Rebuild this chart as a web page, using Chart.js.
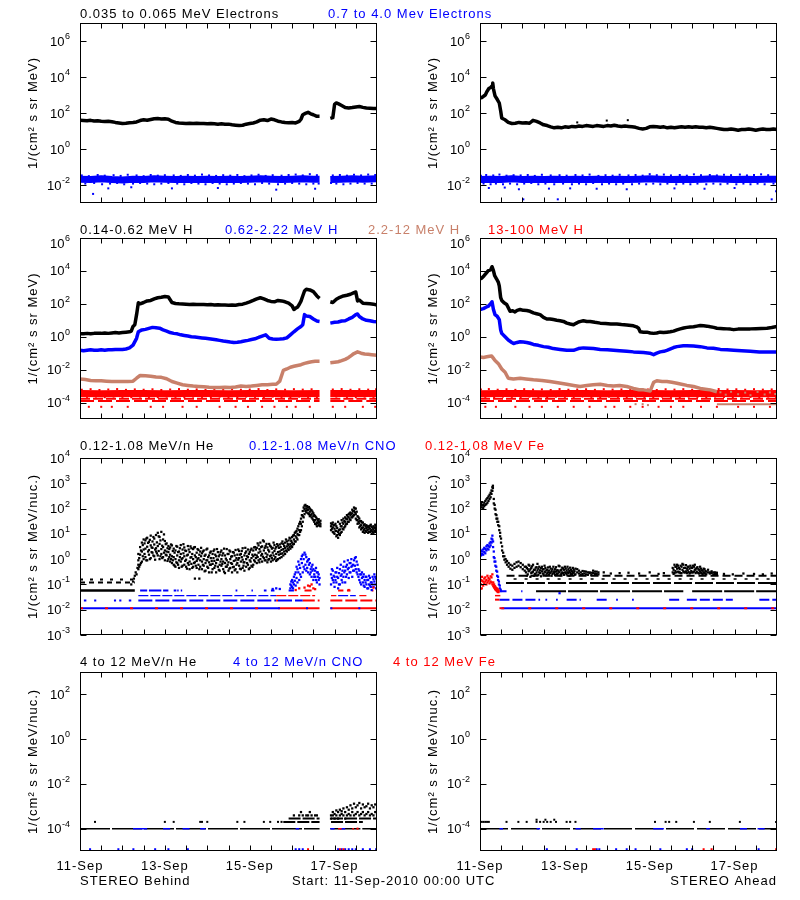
<!DOCTYPE html>
<html><head><meta charset="utf-8">
<script src="https://cdn.jsdelivr.net/npm/chart.js@4.4.1/dist/chart.umd.min.js"></script>
<style>
html,body{margin:0;padding:0;background:#fff;}
#wrap{position:relative;width:800px;height:900px;overflow:hidden;background:#fff;}
#wrap canvas{position:absolute;left:0;top:0;}
</style></head><body><div id="wrap"></div>
<script>
// ================= axes =================
const hourRange = [0, 168];              // 11-Sep-2010 00:00 .. 18-Sep-2010 00:00
const xTickHours = [12,24,36,48,60,72,84,96,108,120,132,144,156];
const dayLabelHours = [0,48,96,144];
const dayLabels = ['11-Sep','13-Sep','15-Sep','17-Sep'];
const row1Range = [1e-3, 1e7], row1Ticks = [1e-2,1e0,1e2,1e4,1e6];
const row2Range = [1e-5, 1e6], row2Ticks = [1e-4,1e-2,1e0,1e2,1e4,1e6];
const row3Range = [1e-3, 1e4], row3Ticks = [1e-3,1e-2,1e-1,1e0,1e1,1e2,1e3,1e4];
const row4Range = [1e-5, 1e3], row4Ticks = [1e-4,1e-2,1e0,1e2];

// ================= row 1 : electrons =================
const behindEleLow = [[0,39],[2,38],[4,37],[6,39],[8,36],[10,37],[12,35],[14,34],[16,35],[18,33],[20,30],[22,28],[24,26],[26,27],[28,29],[30,30],[32,32],[34,38],[36,42],[38,40],[40,44],[42,48],[44,49],[46,47],[48,48],[50,45],[52,35],[54,30],[56,28],[58,27],[60,26],[62,27],[64,26],[66,27],[68,26],[70,26],[72,25],[74,26],[76,25],[78,24],[80,25],[82,24],[84,24],[86,22],[88,21],[90,20],[92,21],[94,24],[96,26],[98,28],[100,32],[102,40],[104,42],[106,38],[108,46],[110,42],[112,35],[114,32],[116,30],[118,29],[120,30],[122,28],[124,34],[125,45],[126,80],[127.5,95],[129,110],[130.5,90],[132,80],[134,65],[135.5,65],[138,null],[141.6,50],[143,55],[144,300],[145,360],[146,330],[148,260],[150,200],[152,190],[154,200],[156,215],[158,230],[160,205],[162,190],[164,185],[166,180],[168,175]];
const behindEleHigh = [[0,0.021],[6,0.02],[12,0.022],[18,0.02],[24,0.019],[30,0.021],[36,0.02],[42,0.022],[48,0.021],[54,0.02],[60,0.021],[66,0.02],[72,0.021],[78,0.02],[84,0.021],[90,0.02],[96,0.021],[102,0.022],[108,0.021],[114,0.02],[120,0.021],[126,0.022],[132,0.021],[135.5,0.021],[138,null],[141.6,0.02],[148,0.021],[154,0.022],[160,0.021],[168,0.022]];
const behindEleHighScatter = [[1,0.034],[3,0.012],[5,0.031],[7.4,0.0032],[8,0.013],[10,0.036],[12.5,0.011],[14,0.033],[16,0.0065],[17,0.012],[19,0.035],[21,0.013],[23,0.032],[25,0.011],[27,0.037],[29,0.0075],[30,0.012],[32,0.034],[34,0.013],[36,0.031],[38,0.012],[40,0.036],[42,0.011],[44,0.033],[46,0.012],[48,0.035],[50,0.013],[52,0.0065],[53,0.034],[55,0.012],[57,0.032],[59,0.011],[61,0.036],[63,0.013],[65,0.033],[67,0.012],[69,0.038],[71,0.011],[73,0.034],[75,0.013],[77,0.032],[78,0.0068],[79,0.012],[81,0.035],[83,0.011],[85,0.033],[87,0.012],[89,0.036],[91,0.013],[93,0.031],[95,0.012],[97,0.034],[99,0.011],[101,0.037],[103,0.013],[105,0.032],[107,0.012],[109,0.035],[111,0.0055],[112,0.011],[114,0.033],[116,0.012],[118,0.036],[120,0.013],[122,0.038],[124,0.012],[126,0.034],[128,0.011],[130,0.04],[132,0.012],[133,0.0062],[134,0.035],[135,0.012],[142,0.013],[143,0.034],[145,0.012],[147,0.036],[149,0.011],[151,0.033],[153,0.012],[155,0.037],[157,0.013],[159,0.034],[161,0.012],[163,0.038],[165,0.012],[167,0.036]];

const aheadEleLow = [[0,780],[1,700],[2,850],[3,1000],[4,1600],[5,2300],[6,2600],[6.8,3200],[7.2,4600],[7.6,2200],[8.5,900],[9.8,560],[10.9,360],[11.7,130],[12.3,53],[13,48],[14.2,42],[16,30],[18,26],[20,27],[22,30],[24,28],[26,29],[28,27],[30,39],[32,34],[34,28],[36,22],[38,20],[40,17],[42,15],[44,16],[46,15],[48,17],[50,16],[52,18],[54,17],[56,19],[58,18],[60,20],[62,19],[64,18],[66,20],[68,19],[70,18],[72,20],[74,19],[76,21],[78,19],[80,18],[82,19],[84,18],[86,17],[88,16],[90,14],[92,13],[94,14],[96,17],[98,18],[100,17],[102,16],[104,17],[106,15],[108,16],[110,15],[112,16],[114,17],[116,16],[118,17],[120,16],[122,17],[124,16],[126,16],[128,15],[130,16],[132,15],[134,14],[136,13],[138,12],[140,12],[142,13],[144,12],[146,11],[148,12],[150,12],[152,13],[154,12],[156,11],[158,12],[160,13],[162,12],[164,12],[166,13],[168,12]];
const aheadEleLowOutliers = [[55,30],[71.7,38],[83.6,40]];
const aheadEleHigh = [[0,0.02],[6,0.021],[12,0.02],[18,0.022],[24,0.02],[30,0.021],[36,0.02],[42,0.021],[48,0.02],[54,0.021],[60,0.02],[66,0.021],[72,0.02],[78,0.021],[84,0.02],[90,0.021],[96,0.022],[102,0.021],[108,0.02],[114,0.021],[120,0.02],[126,0.021],[132,0.022],[138,0.021],[144,0.02],[150,0.021],[156,0.02],[162,0.021],[168,0.021]];
const aheadEleHighScatter = [[0.5,0.033],[2,0.012],[3.5,0.036],[5,0.0068],[6,0.011],[7.5,0.034],[9,0.012],[11,0.038],[13,0.011],[14,0.0072],[15,0.033],[17,0.012],[19,0.035],[21,0.011],[22,0.0058],[23,0.034],[24.5,0.0016],[25,0.012],[27,0.036],[29,0.013],[31,0.032],[33,0.011],[35,0.037],[37,0.012],[39,0.0063],[40,0.034],[42,0.011],[44,0.0016],[45,0.035],[47,0.012],[49,0.033],[51,0.0065],[52,0.011],[54,0.036],[56,0.012],[58,0.034],[60,0.011],[62,0.038],[64,0.013],[66,0.0062],[67,0.032],[69,0.011],[71,0.035],[73,0.012],[75,0.033],[77,0.011],[79,0.037],[81,0.012],[83,0.0058],[84,0.034],[86,0.011],[88,0.036],[90,0.012],[92,0.033],[94,0.011],[96,0.04],[98,0.012],[100,0.035],[102,0.011],[104,0.038],[106,0.012],[108,0.034],[110,0.0065],[111,0.011],[113,0.036],[115,0.012],[117,0.033],[119,0.011],[121,0.039],[123,0.012],[125,0.035],[127,0.0062],[128,0.011],[130,0.036],[132,0.012],[134,0.034],[136,0.011],[138,0.037],[140,0.012],[142,0.035],[144,0.0068],[145,0.011],[147,0.038],[149,0.012],[151,0.034],[153,0.011],[155,0.036],[157,0.012],[159,0.039],[161,0.011],[163,0.035],[165,0.0016],[166,0.012],[167.5,0.0045]];

// ================= row 2 : protons =================
const behindH1 = [[0,1.5],[2,1.5],[4,1.6],[6,1.5],[8,1.6],[10,1.6],[12,1.6],[14,1.7],[16,1.6],[18,1.7],[20,1.8],[22,1.7],[24,1.8],[26,1.9],[28,2.0],[29,2.2],[30,4.2],[31,5.3],[32,22],[33,115],[34,100],[36,120],[38,150],[40,160],[42,200],[44,235],[46,250],[48,280],[50,260],[52,120],[54,105],[56,100],[58,98],[60,95],[62,92],[64,95],[66,90],[68,91],[70,90],[72,88],[74,91],[76,86],[78,88],[80,85],[82,84],[84,83],[86,85],[88,83],[90,90],[92,95],[94,110],[96,130],[98,160],[100,200],[102,235],[104,200],[106,160],[108,140],[110,133],[112,160],[114,150],[116,133],[118,110],[120,75],[121,45],[122,55],[123,62],[124,90],[125,146],[126,300],[127,600],[128,760],[130,700],[132,550],[134,300],[135.5,215],[138,null],[141.6,133],[143,120],[145,190],[147,250],[149,300],[151,330],[153,380],[155,480],[156,520],[157,150],[158,170],[160,110],[162,105],[164,100],[166,95],[168,83]];
const behindH2 = [[0,0.15],[2,0.14],[4,0.15],[6,0.16],[8,0.15],[10,0.15],[12,0.16],[14,0.15],[16,0.16],[18,0.16],[20,0.17],[22,0.17],[24,0.17],[26,0.18],[28,0.21],[30,0.31],[32,0.8],[33,2.0],[35,2.6],[37,2.8],[39,3.2],[41,3.7],[43,3.5],[45,3.3],[47,2.6],[49,2.2],[51,1.8],[53,1.6],[55,1.5],[57,1.3],[59,1.2],[61,1.1],[63,1.0],[65,0.95],[67,0.9],[69,0.85],[71,0.8],[73,0.75],[75,0.7],[77,0.65],[79,0.6],[81,0.55],[83,0.52],[85,0.48],[87,0.45],[89,0.46],[91,0.5],[93,0.55],[95,0.6],[97,0.68],[99,0.75],[101,0.9],[103,1.1],[105,1.3],[107,0.8],[109,0.72],[111,0.7],[113,0.72],[115,0.75],[117,0.85],[119,1.3],[121,2.0],[123,3.0],[125,4.2],[126,5.3],[127,22],[128,18],[130,17],[132,12],[134,9],[135.5,8.5],[138,null],[141.6,6.7],[144,7.5],[146,7.8],[148,9],[150,9.4],[152,12],[154,15],[156,22],[157,24],[158,17],[160,12],[162,10],[164,9.4],[166,8.5],[168,8]];
const behindH3 = [[0,0.0027],[3,0.0025],[6,0.0022],[9,0.0021],[12,0.0021],[15,0.002],[18,0.0019],[21,0.0019],[24,0.0019],[27,0.0019],[30,0.002],[32,0.003],[34,0.0044],[37,0.0042],[40,0.004],[43,0.0036],[46,0.0034],[49,0.0028],[52,0.0019],[55,0.0015],[58,0.0012],[61,0.0011],[64,0.001],[67,0.00095],[70,0.0009],[73,0.00085],[76,0.00083],[79,0.00083],[82,0.00085],[85,0.00083],[88,0.00088],[91,0.001],[94,0.00095],[97,0.001],[100,0.0011],[103,0.0012],[106,0.0012],[109,0.0013],[111,0.0013],[113,0.002],[115,0.0089],[117,0.011],[119,0.014],[121,0.016],[123,0.018],[125,0.02],[127,0.024],[129,0.027],[131,0.03],[133,0.032],[135.5,0.032],[138,null],[141.6,0.026],[144,0.028],[146,0.03],[148,0.035],[150,0.042],[152,0.055],[154,0.08],[155,0.095],[157,0.12],[159,0.1],[161,0.09],[163,0.085],[165,0.08],[168,0.074]];
const behindH4Band = [[0,3.5e-4],[12,3.4e-4],[24,3.6e-4],[36,3.5e-4],[48,3.4e-4],[60,3.5e-4],[72,3.6e-4],[84,3.4e-4],[96,3.5e-4],[108,3.5e-4],[120,3.4e-4],[135.5,3.5e-4],[138,null],[141.6,3.6e-4],[155,3.5e-4],[168,3.6e-4]];
const behindH4Scatter = [[1,6e-4],[4,2.2e-4],[6,6.5e-4],[9,2.3e-4],[11,5.8e-4],[14,2.1e-4],[16,6.2e-4],[19,2.3e-4],[21,6.6e-4],[24,2.2e-4],[26,5.9e-4],[29,2.1e-4],[31,6.3e-4],[34,2.3e-4],[36,6e-4],[39,2.2e-4],[41,6.4e-4],[44,2.1e-4],[46,5.8e-4],[49,2.3e-4],[51,6.2e-4],[54,2.2e-4],[56,6.6e-4],[59,2.1e-4],[61,6e-4],[64,2.3e-4],[66,6.3e-4],[69,2.2e-4],[71,5.9e-4],[74,2.1e-4],[76,6.5e-4],[79,2.3e-4],[81,6.1e-4],[84,2.2e-4],[86,6.4e-4],[89,2.1e-4],[91,6e-4],[94,2.3e-4],[96,6.2e-4],[99,2.2e-4],[101,6.6e-4],[104,2.1e-4],[106,5.8e-4],[109,2.3e-4],[111,6.3e-4],[114,2.2e-4],[116,6e-4],[119,2.1e-4],[121,6.5e-4],[124,2.3e-4],[126,6.1e-4],[129,2.2e-4],[131,6.4e-4],[134,2.1e-4],[143,6.2e-4],[145,2.3e-4],[148,6.6e-4],[151,2.2e-4],[153,6e-4],[156,2.1e-4],[158,6.4e-4],[161,2.3e-4],[163,6.1e-4],[166,2.2e-4],[167.5,6.5e-4]];
const behindH4Levels = [[0,135.5,1.7e-4],[141.6,168,1.7e-4]];
const behindH4Levels2 = [[0,135.5,1.25e-4],[141.6,168,1.25e-4]];
const behindH4LowHours = [5,12,18,27,40,47,58,66,79,88,95,103,110,117,122,130,143,150,160,167];
const h4LowLevel = 5.5e-5;

const aheadH1 = [[0,3200],[0.9,3600],[2.3,5100],[3.4,7100],[4.7,10500],[6,11500],[6.8,18000],[7.6,10500],[8.3,5100],[9.4,3200],[10.4,2000],[10.9,1230],[11.7,235],[12.3,160],[13.6,115],[15.1,91],[17,35],[18.5,38],[19.8,32],[21,40],[22.7,45],[24.5,40],[26.4,39],[28.3,35],[30.2,28],[32,25],[34,22],[35.9,15],[37.8,12],[39.6,12],[41.5,11],[43.4,10],[45.3,9.4],[47.2,8.5],[49.1,6.7],[51,5.9],[52.9,5.3],[54.3,6.5],[55.7,7.8],[57,8.5],[58.5,9.4],[60.4,8.5],[62.3,8.5],[65,7.5],[68,6.7],[71,6.3],[74,6.0],[77.4,5.9],[80,5.5],[83,5.2],[86.8,4.6],[88.5,4.0],[89.7,3.3],[90.6,2.0],[92.5,1.9],[94.4,1.9],[96.3,1.7],[98.2,1.6],[100,1.7],[101.9,1.9],[103.8,1.8],[105.7,1.9],[107.6,2.0],[109.5,2.2],[111.4,2.6],[113.3,3.0],[115.2,3.4],[117,3.7],[118.9,3.9],[120.8,4.0],[122.7,4.4],[124.6,4.8],[126.5,4.6],[128.4,4.4],[130.3,4.0],[132.2,3.7],[134,3.3],[136,3.2],[137.8,3.1],[139.7,3.0],[141.6,2.9],[143.5,2.7],[146,2.9],[149,3.0],[152.9,3.0],[156,3.1],[159,3.2],[162.3,3.3],[165,3.6],[168,4.2]];
const aheadH2 = [[0,45],[1.9,51],[3.4,62],[4.7,72],[6,100],[6.8,133],[7.6,45],[8.5,22],[9.8,17],[10.9,11],[11.7,2.6],[12.3,1.6],[14.2,1.0],[16,0.63],[18,0.45],[19,0.39],[21,0.45],[22.7,0.5],[24.5,0.48],[26.4,0.45],[28.3,0.4],[30.2,0.34],[33,0.3],[35.9,0.25],[38.7,0.23],[41.5,0.19],[45.3,0.17],[49.1,0.15],[52.9,0.15],[55.7,0.19],[58.5,0.21],[61.5,0.2],[64.2,0.19],[68,0.17],[72,0.16],[75.5,0.15],[79,0.14],[83,0.13],[86.8,0.12],[92.5,0.11],[96,0.1],[98.2,0.081],[100,0.1],[101.9,0.12],[104,0.13],[105.7,0.15],[109.5,0.22],[111.4,0.25],[115,0.28],[117,0.28],[120.8,0.27],[124.6,0.25],[128.4,0.21],[132,0.2],[136,0.17],[139.7,0.16],[143.5,0.15],[148,0.14],[152.9,0.13],[158,0.12],[162.3,0.12],[168,0.12]];
const aheadH3 = [[0,0.059],[2,0.055],[3.8,0.06],[5.5,0.065],[6.6,0.068],[7.5,0.05],[8.5,0.036],[10.4,0.023],[12.3,0.011],[14.2,0.0069],[16,0.003],[18.9,0.0027],[22.7,0.003],[26,0.0027],[30.2,0.0024],[35,0.0022],[39.6,0.0019],[44,0.0016],[49.1,0.0013],[53,0.0011],[56.6,0.00095],[60.4,0.0011],[64,0.0012],[68,0.0013],[72,0.0011],[75.5,0.001],[79,0.0011],[83,0.00095],[86.8,0.00072],[90,0.0006],[92.5,0.00059],[96.3,0.00051],[98.2,0.0017],[100,0.0021],[103,0.0019],[105.7,0.0019],[108.5,0.0017],[111.4,0.0015],[114,0.0013],[117,0.0011],[120.8,0.00095],[124.6,0.00072],[127.5,0.00065],[130.3,0.00059],[134,0.00045]];
const aheadH3Floor = [[134,168,8e-5]];
const aheadH3Scatter = [[88,8e-5],[92,8e-5],[95,7e-5],[136,4.2e-4],[139,3e-4],[142,4.5e-4],[146,3.2e-4],[150,4e-4],[153,2.8e-4],[157,4.4e-4],[161,3.1e-4],[164,4.1e-4],[167,3.3e-4]];
const aheadH4Band = [[0,3.4e-4],[12,3.5e-4],[24,3.6e-4],[36,3.4e-4],[48,3.5e-4],[60,3.5e-4],[72,3.4e-4],[84,3.6e-4],[96,3.5e-4],[108,3.4e-4],[120,3.5e-4],[132,3.6e-4],[144,3.5e-4],[156,3.4e-4],[168,3.5e-4]];
const aheadH4Scatter = [[0.5,6.2e-4],[3,2.2e-4],[5,6.6e-4],[8,2.1e-4],[10,6e-4],[13,2.3e-4],[15,6.4e-4],[18,2.2e-4],[20,5.9e-4],[23,2.1e-4],[25,6.5e-4],[28,2.3e-4],[30,6.1e-4],[33,2.2e-4],[35,6.3e-4],[38,2.1e-4],[40,5.8e-4],[43,2.3e-4],[45,6.6e-4],[48,2.2e-4],[50,6e-4],[53,2.1e-4],[55,6.2e-4],[58,2.3e-4],[60,6.4e-4],[63,2.2e-4],[65,5.9e-4],[68,2.1e-4],[70,6.5e-4],[73,2.3e-4],[75,6.1e-4],[78,2.2e-4],[80,6.3e-4],[83,2.1e-4],[85,6e-4],[88,2.3e-4],[90,6.6e-4],[93,2.2e-4],[95,6.2e-4],[98,2.1e-4],[100,5.8e-4],[103,2.3e-4],[105,6.4e-4],[108,2.2e-4],[110,6.1e-4],[113,2.1e-4],[115,6.5e-4],[118,2.3e-4],[120,6e-4],[123,2.2e-4],[125,6.3e-4],[128,2.1e-4],[130,5.9e-4],[133,2.3e-4],[135,6.6e-4],[138,2.2e-4],[140,6.2e-4],[143,2.1e-4],[145,6.4e-4],[148,2.3e-4],[150,6e-4],[153,2.2e-4],[155,6.5e-4],[158,2.1e-4],[160,6.1e-4],[163,2.3e-4],[165,6.3e-4],[167.5,2.2e-4]];
const aheadH4Levels = [[0,168,1.7e-4]];
const aheadH4Levels2 = [[0,168,1.25e-4]];
const aheadH4LowHours = [3,9,20,28,35,44,53,62,71,76,85,92,101,108,115,125,134,146,155,164];

// ================= row 3 : 0.12-1.08 MeV/n ions =================
const behindHeQuiet = [[0,31,0.057]];
const behindHeQuiet2 = [[0,31,0.12]];
const behindHeQuiet3 = [[0,31,0.155]];
const behindHeRise = [[29,0.1],[30,0.13],[30.5,0.17],[31,0.22],[31.5,0.3],[32,0.25],[32.5,0.45],[33,0.6],[65,0.17],[67.5,0.17]];
const behindHeCloud = [[33,0.4,0.9,1.6],[34,0.6,1.5,3.0],[35,0.8,2.0,4.5],[36,1.0,2.4,6.0],[37,1.2,2.6,5.5],[38,0.9,3.1,7.0],[39,1.5,2.3,4.8],[40,1.1,3.5,8.5],[41,1.8,2.8,5.0],[42,1.3,3.8,6.5],[43,2.0,2.7,9.0],[44,1.4,3.3,11],[45,1.0,4.0,7.5],[46,1.6,2.5,12],[47,1.2,3.0,6.0],[48,0.9,2.2,5.2],[49,1.4,2.0,4.2],[50,1.0,1.9,3.3],[51,0.8,1.5,2.9],[52,0.7,1.3,3.5],[53,0.6,1.2,2.6],[54,0.5,1.0,2.2],[55,0.7,1.4,3.1],[56,0.45,0.9,2.0],[57,0.8,1.6,3.6],[58,0.55,1.1,2.4],[59,0.6,1.3,2.9],[60,0.5,0.95,2.1],[61,0.7,1.5,3.3],[62,0.4,0.8,1.9],[63,0.65,1.2,2.7],[64,0.5,1.0,2.5],[65,0.75,1.4,3.0],[66,0.45,0.85,1.8],[67,0.6,1.1,2.3],[68,0.5,0.9,2.0],[69,0.4,0.8,1.7],[70,0.55,1.0,2.2],[71,0.35,0.7,1.5],[72,0.5,0.9,2.6],[73,0.3,0.75,1.4],[74,0.6,1.1,2.0],[75,0.4,0.65,1.6],[76,0.45,0.85,2.4],[77,0.3,0.7,1.3],[78,0.5,0.95,1.9],[79,0.35,0.6,1.5],[80,0.55,1.0,2.2],[81,0.4,0.8,1.7],[82,0.28,0.7,1.4],[83,0.5,0.9,2.5],[84,0.35,0.75,1.6],[85,0.45,1.0,2.0],[86,0.3,0.65,1.3],[87,0.5,0.85,1.8],[88,0.4,0.9,2.3],[89,0.3,0.7,1.5],[90,0.55,1.1,2.1],[91,0.4,0.8,1.6],[92,0.45,0.95,2.7],[93,0.35,0.75,1.4],[94,0.5,1.0,2.0],[95,0.6,1.2,2.4],[96,0.45,0.9,1.9],[97,0.55,1.1,2.6],[98,0.6,1.3,2.2],[99,0.8,1.5,3.0],[100,0.7,1.4,2.8],[101,0.9,1.8,3.5],[102,1.0,2.0,4.5],[103,0.8,1.6,3.2],[104,1.1,2.2,5.0],[105,0.9,1.7,3.3],[106,0.75,1.5,2.9],[107,1.0,2.0,4.0],[108,0.8,1.4,3.1],[109,0.9,1.8,2.8],[110,1.0,2.1,3.6],[111,0.85,1.6,3.0],[112,1.0,1.9,3.4],[113,1.1,2.0,3.8],[114,1.2,2.3,4.2],[115,1.4,2.5,4.0],[116,1.6,2.8,4.5],[117,2.0,3.2,5.0],[118,2.3,3.6,5.5],[119,2.6,4.0,6.5],[120,3.0,4.5,7.5],[121,4.0,6.0,9.0],[122,5.0,8.0,12],[123,6.0,10,16],[124,9.0,14,25],[125,14,25,40],[126,30,50,80],[127,60,95,130],[128,70,100,120],[129,65,90,110],[130,50,75,100],[131,45,60,85],[132,35,50,65],[133,25,35,50],[134,20,28,40],[135,22,30,38],[136,20,25,33],[142,14,20,26],[143,12,18,28],[144,10,16,22],[145,8,13,20],[146,7,12,30],[147,9,15,25],[148,12,20,35],[149,15,25,40],[150,20,30,45],[151,25,38,55],[152,30,45,60],[153,35,55,70],[154,45,65,90],[155,55,80,110],[156,40,60,100],[157,25,35,50],[158,18,26,40],[159,15,22,32],[160,12,18,28],[161,11,16,24],[162,12,17,22],[163,11,15,20],[164,12,16,21],[165,10,14,19],[166,11,15,20],[167,12,17,23],[168,11,16,20]];
const behindHeCloudHalf = [[33.5,1.1,0.5],[34.5,2.2,0.7],[35.5,1.3,3.6],[36.5,4.2,1.6],[37.5,0.9,6.5],[38.5,2.0,4.4],[39.5,5.8,1.0],[40.5,1.9,2.9],[41.5,7.5,1.4],[42.5,2.4,0.95],[43.5,4.6,1.7],[44.5,2.1,8.0],[45.5,5.5,1.3],[46.5,3.4,1.1],[47.5,9.5,1.8],[48.5,1.5,3.9],[49.5,2.7,0.85],[50.5,1.2,2.5],[51.5,3.8,1.0],[52.5,0.9,2.1],[53.5,1.8,0.55],[54.5,3.3,0.75],[55.5,0.6,1.9],[56.5,2.7,1.2],[57.5,0.5,1.0],[58.5,1.7,3.9],[59.5,0.85,2.2],[60.5,1.4,0.42],[61.5,2.4,0.6],[62.5,1.15,3.2],[63.5,0.45,1.6],[64.5,2.9,0.7],[65.5,0.55,1.2],[66.5,2.5,1.0],[67.5,0.4,1.5],[68.5,1.3,2.8],[69.5,0.6,2.0],[70.5,1.35,0.33],[71.5,2.4,0.9],[72.5,0.45,1.2],[73.5,1.8,0.6],[74.5,0.3,0.85],[75.5,2.1,1.1],[76.5,0.55,1.5],[77.5,0.95,2.5],[78.5,0.38,1.3],[79.5,1.9,0.8],[80.5,0.65,1.4],[81.5,2.6,0.32],[82.5,1.05,0.5],[83.5,0.6,1.6],[84.5,2.2,0.42],[85.5,1.25,0.7],[86.5,0.48,1.9],[87.5,1.4,0.36],[88.5,0.6,1.1],[89.5,2.4,0.95],[90.5,0.42,1.5],[91.5,1.2,2.1],[92.5,0.55,0.75],[93.5,1.75,2.8],[94.5,0.7,1.3],[95.5,0.4,1.6],[96.5,2.3,0.8],[97.5,1.5,0.5],[98.5,0.9,2.9],[99.5,2.4,1.1],[100.5,1.2,4.2],[101.5,0.75,2.5],[102.5,3.0,1.4],[103.5,1.25,5.5],[104.5,0.9,2.8],[105.5,4.0,1.2],[106.5,2.3,0.95],[107.5,1.3,3.4],[108.5,2.6,1.1],[109.5,4.5,1.4],[110.5,1.2,2.6],[111.5,3.9,0.95],[112.5,1.5,2.8],[113.5,3.0,1.6],[114.5,1.7,5.0],[115.5,3.3,2.0],[116.5,2.2,6.0],[117.5,4.0,2.6],[118.5,3.0,7.0],[119.5,5.2,3.3],[120.5,3.8,8.5],[121.5,5.0,11],[122.5,7,13],[123.5,9,20],[124.5,12,30],[125.5,20,55],[126.5,45,110],[127.5,80,140],[128.5,85,125],[129.5,60,115],[130.5,55,90],[131.5,40,75],[132.5,30,55],[133.5,24,45],[134.5,26,34],[135.5,21,28],[142.5,16,24],[143.5,11,22],[144.5,13,25],[145.5,9,17],[146.5,10,14],[147.5,11,20],[148.5,16,28],[149.5,18,32],[150.5,24,40],[151.5,30,48],[152.5,38,65],[153.5,45,60],[154.5,50,80],[155.5,70,100],[156.5,35,75],[157.5,30,45],[158.5,20,32],[159.5,17,28],[160.5,14,22],[161.5,13,20],[162.5,14,19],[163.5,12,18],[164.5,13,23],[165.5,12,17],[166.5,13,18],[167.5,14,21]];
const behindCnoCloud = [[109,0.066],[111,0.07],[113,0.066],[119,0.07,0.1],[120,0.08,0.15],[121,0.1,0.2],[122,0.09,0.3],[123,0.12,0.4],[124,0.15,0.6],[125,0.2,1.0],[126,0.3,1.5],[127,0.4,1.8],[128,0.35,1.2],[129,0.3,0.9],[130,0.25,0.7],[131,0.2,0.5],[132,0.15,0.4],[133,0.2,0.35],[134,0.12,0.3],[135,0.15,0.25],[142,0.1,0.25],[143,0.15,0.35],[144,0.08,0.2],[145,0.12,0.3],[146,0.07,0.18],[147,0.1,0.4],[148,0.15,0.25],[149,0.2,0.5],[150,0.12,0.35],[151,0.25,0.6],[152,0.18,0.45],[153,0.3,0.7],[154,0.2,0.55],[155,0.35,0.9],[156,0.4,1.2],[157,0.25,0.6],[158,0.15,0.35],[159,0.1,0.25],[160,0.12,0.2],[161,0.08,0.15],[162,0.1,0.2],[163,0.07,0.15],[164,0.09,0.18],[165,0.06,0.12],[166,0.08,0.16],[167,0.1,0.2],[168,0.09,0.15]];
const behindCnoCloudHalf = [[119.5,0.09,0.13],[120.5,0.12,0.07],[121.5,0.25,0.14],[122.5,0.18,0.5],[123.5,0.3,0.8],[124.5,0.45,0.25],[125.5,0.7,1.3],[126.5,1.0,0.5],[127.5,1.5,0.6],[128.5,0.8,0.45],[129.5,0.6,1.0],[130.5,0.4,0.3],[131.5,0.35,0.6],[132.5,0.25,0.2],[133.5,0.45,0.15],[134.5,0.2,0.3],[135.5,0.18,0.1],[142.5,0.18,0.4],[143.5,0.12,0.22],[144.5,0.3,0.15],[145.5,0.2,0.45],[146.5,0.1,0.28],[147.5,0.22,0.6],[148.5,0.35,0.12],[149.5,0.3,0.8],[150.5,0.5,0.2],[151.5,0.4,0.9],[152.5,0.3,0.7],[153.5,0.5,1.0],[154.5,0.6,0.35],[155.5,0.55,1.1],[156.5,0.8,0.3],[157.5,0.4,0.2],[158.5,0.25,0.12],[159.5,0.18,0.3],[160.5,0.09,0.25],[161.5,0.2,0.12],[162.5,0.15,0.07],[163.5,0.22,0.1],[164.5,0.12,0.08],[165.5,0.2,0.1],[166.5,0.13,0.25],[167.5,0.17,0.07]];
const behindCno0115 = [[0,112,0.0115]];
const behindFe0115 = [[112,135.5,0.0115],[141.6,168,0.0115]];
const behindCno023 = [[2.2,3.6,0.023],[8,9.2,0.023],[19.2,20.4,0.023],[22.2,23.4,0.023],[27.6,29,0.023],[33,111,0.023],[112,126,0.023]];
const behindFe023 = [[111,112,0.023],[126,135.5,0.023],[141.6,168,0.023]];
const behindCno036 = [[33,111,0.036],[146,156,0.036]];
const behindFe036 = [[111,133,0.036],[142,145,0.036],[158,162,0.036]];
const behindCno057 = [[34,38,0.057],[39,46,0.057],[47,50,0.057],[53,54.5,0.057],[55,55.8,0.057],[57,57.8,0.057],[88,89,0.057],[97,97.8,0.057],[104,105.5,0.057],[108,110,0.057],[118,121,0.057]];
const behindFe057 = [[127,131,0.057],[146,149,0.057],[151,153,0.057],[165,166,0.057]];
const behindFeScatter = [[122,0.06],[124,0.07],[127,0.075],[129,0.09],[130,0.085],[131,0.1],[132,0.07],[133,0.065],[152,0.06],[166,0.075]];

const aheadHeEarly = [[0,120,165],[0.6,110,150],[1.2,130,180],[1.8,105,140],[2.4,125,170],[3,140,200],[3.6,150,230],[4.2,170,260],[4.8,200,300],[5.4,240,350],[6,280,420],[6.5,380,520],[7,500,700],[7.3,650,800],[7.8,160,240],[8.3,100,140],[8.8,60,90],[9.3,40,55],[9.8,30,40],[10.3,22,30],[10.9,14,20],[11.4,8,11],[11.9,4.5,6.5],[12.5,2.2,3.2],[13.1,1.3,1.8],[13.8,0.95,1.3],[14.5,0.75,1.0],[15.3,0.6,0.85],[16.2,0.5,0.7],[17.2,0.42,0.6],[18.3,0.38,0.55],[19.5,0.45,0.65],[20.7,0.5,0.75],[21.8,0.55,0.8],[23,0.48,0.7],[24.2,0.4,0.6],[25.3,0.35,0.5]];
const aheadHeCloud = [[26,0.3,0.5],[27,0.25,0.4],[28,0.35,0.55],[29,0.28,0.45],[30,0.32,0.6],[31,0.26,0.38],[32,0.3,0.48],[33,0.24,0.42],[34,0.28,0.36],[35,0.33,0.5],[36,0.25,0.4],[37,0.3,0.45],[38,0.27,0.38],[39,0.24,0.35],[40,0.3,0.42],[41,0.26,0.4],[42,0.28,0.33],[43,0.32,0.48],[44,0.27,0.36],[45,0.3,0.52],[46,0.26,0.38],[47,0.28,0.43],[48,0.3,0.5],[49,0.25,0.35],[50,0.28,0.4],[51,0.3,0.46],[52,0.26,0.33],[53,0.29,0.38],[54,0.25,0.42],[56,0.27,0.35],[57,0.24,0.3],[58,0.26,0.34],[60,0.25,0.32],[62,0.28,0.3],[63,0.24,0.29],[65,0.26,0.32],[67,0.25,0.3],[70,0.3],[74,0.27],[79,0.28],[84,0.29],[90,0.27],[96,0.3],[101,0.26],[104,0.28],[109,0.3,0.45],[110,0.28,0.6],[111,0.3,0.5],[112,0.32,0.55],[113,0.3,0.4],[114,0.28,0.5],[115,0.33,0.6],[116,0.3,0.45],[117,0.28,0.42],[118,0.31,0.5],[119,0.29,0.55],[120,0.3,0.45],[121,0.32,0.5],[122,0.28,0.4],[123,0.3,0.48],[124,0.27,0.38],[125,0.29,0.42],[126,0.26,0.35],[127,0.28,0.4],[128,0.25,0.32],[130,0.27,0.3],[132,0.25,0.3],[134,0.26,0.29],[138,0.26],[143,0.25],[149,0.27],[155,0.26],[160,0.25],[165,0.27]];
const aheadHeCloudHalf = [[26.5,0.45,0.22],[27.5,0.6,0.33],[28.5,0.2,0.4],[29.5,0.52,0.3],[30.5,0.22,0.38],[31.5,0.46,0.25],[32.5,0.36,0.65],[33.5,0.5,0.3],[34.5,0.21,0.44],[35.5,0.4,0.27],[36.5,0.55,0.32],[37.5,0.23,0.36],[38.5,0.47,0.3],[39.5,0.28,0.5],[40.5,0.34,0.22],[41.5,0.5,0.3],[42.5,0.4,0.24],[43.5,0.26,0.36],[44.5,0.55,0.32],[45.5,0.36,0.23],[46.5,0.46,0.3],[47.5,0.24,0.38],[48.5,0.42,0.28],[49.5,0.3,0.5],[50.5,0.22,0.34],[51.5,0.38,0.26],[52.5,0.45,0.3],[53.5,0.24,0.33],[55,0.3,0.4],[59,0.27,0.33],[61,0.3,0.24],[64,0.28,0.35],[66,0.32,0.26],[109.5,0.38,0.26],[110.5,0.5,0.34],[111.5,0.42,0.6],[112.5,0.3,0.45],[113.5,0.55,0.28],[114.5,0.38,0.65],[115.5,0.45,0.3],[116.5,0.58,0.33],[117.5,0.36,0.5],[118.5,0.42,0.27],[119.5,0.34,0.46],[120.5,0.55,0.3],[121.5,0.38,0.6],[122.5,0.32,0.45],[123.5,0.4,0.28],[124.5,0.33,0.5],[125.5,0.36,0.27],[126.5,0.3,0.42],[127.5,0.34,0.26],[129,0.3,0.38],[131,0.28,0.33],[133,0.3,0.26]];
const aheadHeLevel22 = [[15,168,0.22]];
const aheadHeLevel165 = [[19,168,0.165]];
const aheadHeLevel115 = [[14.7,168,0.115]];
const aheadHeLevel054 = [[31.7,115,0.054],[120,168,0.054]];
const aheadCnoEarly = [[0,1.7,2.6],[0.6,1.4,2.2],[1.2,1.6,2.0],[1.8,1.5,2.4],[2.4,1.9,2.8],[3,1.7,2.5],[3.6,2.2,3.2],[4.2,2.6,3.6],[4.8,2.4,3.3],[5.4,3.0,4.2],[6,3.5,4.8],[6.5,4.5,6.5],[7,6,8.5],[7.4,3,5],[7.8,1.2,2],[8.2,0.8,1.1],[8.7,0.55,0.8],[9.2,0.35,0.5],[9.7,0.22,0.32],[10.2,0.15,0.2],[10.7,0.1,0.13],[11.2,0.07,0.09],[11.7,0.055,0.062],[45,0.045]];
const aheadCno054 = [[11.3,15,0.054],[23.3,24,0.054]];
const aheadCno025 = [[11,34,0.025],[37,38,0.025],[43,44,0.025],[49,57,0.025],[66,72,0.025],[77,78,0.025],[86,87,0.025],[107,113,0.025],[117,143,0.025],[158,168,0.025]];
const aheadCno0115 = [[12,168,0.0115]];
const aheadFeEarly = [[0,0.12,0.18],[0.3,0.066],[0.6,0.1,0.15],[1,0.07],[1.2,0.14,0.2],[1.8,0.09,0.13],[2.4,0.11,0.17],[3,0.13,0.19],[3.6,0.1,0.15],[4.2,0.12,0.22],[4.8,0.14,0.18],[5.4,0.11,0.16],[6,0.13,0.21],[6.5,0.12,0.19],[7,0.1,0.25],[7.5,0.085,0.12],[8,0.075,0.1],[8.5,0.065,0.085],[9,0.06,0.075],[9.5,0.055,0.07],[10,0.05,0.065],[10.5,0.05,0.058]];
const aheadFe036 = [[8.5,11.5,0.036]];
const aheadFe025 = [[8.5,11,0.025]];
const aheadFe0115 = [[11,12,0.0115]];

// ================= row 4 : 4-12 MeV/n ions =================
const floorLevel = 1e-4, oneCountLevel = 2e-4, lowCnoLevel = 1.2e-5;
const behindHeHiFloor = [[0,135.5,1e-4],[141.6,168,1e-4]];
const behindCnoHiFloor = [[30,38,1e-4],[47,51,1e-4],[58,62,1e-4],[68,71,1e-4],[122,124,1e-4],[141.6,144,1e-4],[147,150,1e-4]];
const behindFeHiFloor = [[146,148,1e-4],[154,155,1e-4]];
const behindHeHiOneCount = [8.5,48,53,68,69,72,89,93,104,107.6,112,114];
const behindHeHiLevels = [[115,135.5,2e-4],[118,135.5,2.8e-4],[142,160,2e-4],[142,168,2.8e-4]];
const behindHeHiScatter = [[121,3.9e-4],[124,3.9e-4],[125,5.5e-4],[126,3.9e-4],[128,3.9e-4],[129,3.9e-4],[130,5.5e-4],[131,3.9e-4],[133,3.9e-4],[134,3.9e-4],[142,2.8e-4,3.9e-4],[143,3.9e-4,5.5e-4],[144,2.8e-4,4.5e-4],[145,3.9e-4,6.5e-4],[146,2.8e-4,5.5e-4],[147,3.9e-4,7e-4],[148,4.5e-4,6e-4],[149,3.9e-4,8e-4],[150,2.8e-4,5.5e-4],[151,3.9e-4,9e-4],[152,4.5e-4,7e-4],[153,3.9e-4,1.1e-3],[154,5.5e-4,8e-4],[155,3.9e-4,1.3e-3],[156,4.5e-4,9e-4],[157,5.5e-4,1.1e-3],[158,3.9e-4,1.4e-3],[159,4.5e-4,8e-4],[160,5.5e-4,1.2e-3],[161,3.9e-4,9e-4],[162,4.5e-4,1.0e-3],[163,5.5e-4,1.3e-3],[164,3.9e-4,8e-4],[165,4.5e-4,1.1e-3],[166,3.9e-4,9e-4],[167,5.5e-4,1.2e-3],[168,4.5e-4,7e-4]];
const behindCnoHiLowHours = [5.7,21.7,30.2,42.5,50,61,122,124,126,146,148,150,152,154,156,160,164,167.5];
const behindFeHiLowHours = [129,147,149];
const behindFeHiFloorDots = [157];

const aheadHeHiFloor = [[0,168,1e-4]];
const aheadCnoHiFloor = [[11,13,1e-4],[32,34,1e-4],[54,57,1e-4],[64,70,1e-4],[98,104,1e-4],[128,130,1e-4],[147,151,1e-4],[157,161,1e-4]];
const aheadHeHiOneCount = [0,1,2,3,4,5,15,21.7,26.4,32,34,36,38,40,43,49,51,54,99,105,107,111,121,130,147,167.5];
const aheadHeHiScatter = [[32,2.5e-4],[37,2.5e-4],[42,2.5e-4]];
const aheadCnoHiLowHours = [37.8,54.7,66,67.5,77,83,88,102,117,120,157.6];
const aheadFeHiLowHours = [64,65,126.5,131,167.5];

// ================= drawing =================
const C = {k:'#000000', b:'#0000ff', r:'#ff0000', s:'#c8806a'};
const FONT = '"Liberation Sans", Arial, sans-serif';

const pts = a => a.map(p => ({x:p[0], y:p[1]}));
const rowPts = rows => rows.flatMap(r => r.slice(1).map(v => ({x:r[0], y:v})));
const segPts = segs => segs.flatMap(s => [{x:s[0],y:s[2]},{x:s[1],y:s[2]},{x:s[1],y:null}]);
const hourPts = (hours, v) => hours.map(h => ({x:h, y:v}));

function line(data, color, w, dash){
  return {data, showLine:true, borderColor:color, borderWidth:w, borderDash:dash||[], pointRadius:0, pointHoverRadius:0,
          spanGaps:false, tension:0, borderJoinStyle:'round', borderCapStyle:'butt', fill:false};
}
function dots(data, color, r){
  return {data, showLine:false, pointRadius:r||1.42, pointHoverRadius:0, pointStyle:'rect',
          pointBackgroundColor:color, pointBorderColor:color, pointBorderWidth:0};
}

const COLS = [[80,377],[480,777]];
const ROWS = [[23,203],[238,419],[458,635],[672,851]];
const yTitleE = '1/(cm\u00B2 s sr MeV)';
const yTitleN = '1/(cm\u00B2 s sr MeV/nuc.)';

const panels = [
  {col:0,row:0,range:row1Range,ticks:row1Ticks,yTitle:yTitleE,
   titles:[['0.035 to 0.065 MeV Electrons',80,C.k],['0.7 to 4.0 Mev Electrons',328,C.b]], titleY:17.5,
   ds:[line(pts(behindEleHigh),C.b,7), dots(pts(behindEleHighScatter),C.b), line(pts(behindEleLow),C.k,3.5)]},
  {col:1,row:0,range:row1Range,ticks:row1Ticks,yTitle:yTitleE,
   ds:[line(pts(aheadEleHigh),C.b,7), dots(pts(aheadEleHighScatter),C.b), line(pts(aheadEleLow),C.k,3.5), dots(pts(aheadEleLowOutliers),C.k)]},
  {col:0,row:1,range:row2Range,ticks:row2Ticks,yTitle:yTitleE,topLabelDrop:5,
   titles:[['0.14-0.62 MeV H',80,C.k],['0.62-2.22 MeV H',225,C.b],['2.2-12 MeV H',368,C.s],['13-100 MeV H',488,C.r]], titleY:233.5,
   ds:[dots(hourPts(behindH4LowHours,h4LowLevel),C.r), line(segPts(behindH4Levels2),C.r,2,[14,4]), line(segPts(behindH4Levels),C.r,2,[10,3]),
       line(pts(behindH4Band),C.r,7), dots(pts(behindH4Scatter),C.r),
       line(pts(behindH3),C.s,3.5), line(pts(behindH2),C.b,3.5), line(pts(behindH1),C.k,3.5)]},
  {col:1,row:1,range:row2Range,ticks:row2Ticks,yTitle:yTitleE,topLabelDrop:5,
   ds:[dots(hourPts(aheadH4LowHours,h4LowLevel),C.r), line(segPts(aheadH4Levels2),C.r,2,[14,4]), line(segPts(aheadH4Levels),C.r,2,[10,3]),
       line(pts(aheadH4Band),C.r,7), dots(pts(aheadH4Scatter),C.r),
       line(segPts(aheadH3Floor),C.s,2), dots(pts(aheadH3Scatter),C.s),
       line(pts(aheadH3),C.s,3.5), line(pts(aheadH2),C.b,3.5), line(pts(aheadH1),C.k,3.5)]},
  {col:0,row:2,range:row3Range,ticks:row3Ticks,yTitle:yTitleN,
   titles:[['0.12-1.08 MeV/n He',80,C.k],['0.12-1.08 MeV/n CNO',249,C.b],['0.12-1.08 MeV Fe',425,C.r]], titleY:450,
   ds:[line(segPts(behindCno0115),C.b,2), line(segPts(behindCno0115),C.r,2,[3,22]),
       line(segPts(behindFe0115),C.r,2), line(segPts(behindFe0115),C.b,2,[2,26]),
       line(segPts(behindCno023),C.b,2,[14,3]), line(segPts(behindFe023),C.r,2,[12,3]),
       line(segPts(behindCno036),C.b,1.2,[10,2]), line(segPts(behindFe036),C.r,1.2,[10,2]),
       line(segPts(behindCno057),C.b,2), line(segPts(behindFe057),C.r,2),
       line(segPts(behindHeQuiet),C.k,2.5), line(segPts(behindHeQuiet2),C.k,2,[5,4]), line(segPts(behindHeQuiet3),C.k,2,[3,7]),
       dots(pts(behindHeRise),C.k,1.6), dots(rowPts(behindHeCloud),C.k,1.6), dots(rowPts(behindHeCloudHalf),C.k,1.6),
       dots(rowPts(behindCnoCloud),C.b,1.6), dots(rowPts(behindCnoCloudHalf),C.b,1.6), dots(pts(behindFeScatter),C.r,1.6)]},
  {col:1,row:2,range:row3Range,ticks:row3Ticks,yTitle:yTitleN,
   ds:[line(segPts(aheadCno0115),C.b,2), line(segPts(aheadCno0115),C.r,2,[3,24]), line(segPts(aheadFe0115),C.r,2),
       line(segPts(aheadCno025),C.b,2,[10,3]), line(segPts(aheadFe025),C.r,2), line(segPts(aheadFe036),C.r,1.5),
       line(segPts(aheadCno054),C.b,2),
       line(segPts(aheadHeLevel054),C.k,2,[30,2]), line(segPts(aheadHeLevel115),C.k,2,[18,3]),
       line(segPts(aheadHeLevel165),C.k,1.5,[3,8]), line(segPts(aheadHeLevel22),C.k,2,[8,4]),
       dots(rowPts(aheadHeCloud),C.k,1.6), dots(rowPts(aheadHeCloudHalf),C.k,1.6), dots(rowPts(aheadHeEarly),C.k,1.6),
       dots(rowPts(aheadCnoEarly),C.b,1.6), dots(rowPts(aheadFeEarly),C.r,1.6)]},
  {col:0,row:3,range:row4Range,ticks:row4Ticks,yTitle:yTitleN,
   titles:[['4 to 12 MeV/n He',80,C.k],['4 to 12 MeV/n CNO',233,C.b],['4 to 12 MeV Fe',393,C.r]], titleY:666,
   days:true, footer:[['STEREO Behind',80,'left'],['Start: 11-Sep-2010 00:00 UTC',292,'left']],
   ds:[line(segPts(behindHeHiFloor),C.k,1.5,[30,2]), line(segPts(behindCnoHiFloor),C.b,1.5), line(segPts(behindFeHiFloor),C.r,1.5),
       dots(hourPts(behindFeHiFloorDots,floorLevel),C.r),
       dots(hourPts(behindHeHiOneCount,oneCountLevel),C.k), line(segPts(behindHeHiLevels),C.k,2,[12,2]),
       dots(rowPts(behindHeHiScatter),C.k,1.6),
       dots(hourPts(behindCnoHiLowHours,lowCnoLevel),C.b), dots(hourPts(behindFeHiLowHours,lowCnoLevel),C.r)]},
  {col:1,row:3,range:row4Range,ticks:row4Ticks,yTitle:yTitleN,
   days:true, footer:[['STEREO Ahead',777,'right']],
   ds:[line(segPts(aheadHeHiFloor),C.k,1.5,[28,3]), line(segPts(aheadCnoHiFloor),C.b,1.5),
       dots(hourPts(aheadHeHiOneCount,oneCountLevel),C.k), dots(pts(aheadHeHiScatter),C.k),
       dots(hourPts(aheadCnoHiLowHours,lowCnoLevel),C.b), dots(hourPts(aheadFeHiLowHours,lowCnoLevel),C.r)]}
];

function setSpacing(ctx, v){ if ('letterSpacing' in ctx) ctx.letterSpacing = v; }

function deco(p){
  return {id:'deco', afterDraw(chart){
    const ctx = chart.ctx, xs = chart.scales.x, ys = chart.scales.y, a = chart.chartArea;
    const L = Math.round(a.left)+0.5, R = Math.round(a.right)-0.5, T = Math.round(a.top)+0.5, B = Math.round(a.bottom)-0.5;
    ctx.save();
    ctx.strokeStyle = '#000'; ctx.lineWidth = 1;
    ctx.strokeRect(L, T, R-L, B-T);
    ctx.beginPath();
    xTickHours.forEach(h => { const px = Math.round(xs.getPixelForValue(h))+0.5;
      ctx.moveTo(px,B); ctx.lineTo(px,B-5); ctx.moveTo(px,T); ctx.lineTo(px,T+5); });
    p.ticks.forEach(v => { const py = Math.round(ys.getPixelForValue(v))+0.5;
      ctx.moveTo(L,py); ctx.lineTo(L+6,py); ctx.moveTo(R,py); ctx.lineTo(R-6,py); });
    ctx.stroke();
    ctx.fillStyle = '#000'; ctx.textBaseline = 'alphabetic';
    setSpacing(ctx,'0px');
    p.ticks.forEach((v, i) => {
      const e = String(Math.round(Math.log10(v)));
      let py = ys.getPixelForValue(v);
      if (i === p.ticks.length - 1 && p.topLabelDrop) py += p.topLabelDrop;
      const right = a.left - 10;
      ctx.font = '9px ' + FONT; const ew = ctx.measureText(e).width;
      ctx.textAlign = 'left'; ctx.fillText(e, right - ew, py - 2);
      ctx.font = '13px ' + FONT; ctx.textAlign = 'right';
      ctx.fillText('10', right - ew - 0.5, py + 4.5);
    });
    ctx.save();
    ctx.translate(a.left - 47, (a.top + a.bottom)/2);
    ctx.rotate(-Math.PI/2);
    ctx.font = '13px ' + FONT; setSpacing(ctx,'1px');
    ctx.textAlign = 'center'; ctx.textBaseline = 'middle';
    ctx.fillText(p.yTitle, 0, 0);
    ctx.restore();
    ctx.font = '13px ' + FONT; setSpacing(ctx,'1px'); ctx.textBaseline = 'alphabetic';
    if (p.titles) p.titles.forEach(t => { ctx.fillStyle = t[2]; ctx.textAlign = 'left'; ctx.fillText(t[0], t[1], p.titleY); });
    ctx.fillStyle = '#000';
    if (p.days) dayLabelHours.forEach((h,i) => { ctx.textAlign = 'center'; ctx.fillText(dayLabels[i], xs.getPixelForValue(h), 870); });
    if (p.footer) p.footer.forEach(f => { ctx.textAlign = f[2]; ctx.fillText(f[0], f[1], 885); });
    ctx.restore();
  }};
}

const wrap = document.getElementById('wrap');
panels.forEach((p, i) => {
  const cv = document.createElement('canvas');
  cv.width = 800; cv.height = 900; cv.style.width = '800px'; cv.style.height = '900px';
  wrap.appendChild(cv);
  const [l, r] = COLS[p.col], [t, b] = ROWS[p.row];
  p.ds.forEach((d, k) => { d.order = -k; });
  new Chart(cv.getContext('2d'), {
    type:'scatter',
    data:{datasets:p.ds},
    options:{
      responsive:false, animation:false, devicePixelRatio:1, events:[],
      layout:{padding:{left:l, top:t, right:800-r, bottom:900-b}},
      plugins:{legend:{display:false}, tooltip:{enabled:false}},
      scales:{
        x:{type:'linear', min:hourRange[0], max:hourRange[1], display:false},
        y:{type:'logarithmic', min:p.range[0], max:p.range[1], display:false}
      }
    },
    plugins:[deco(p)]
  });
});
</script>
</body></html>
